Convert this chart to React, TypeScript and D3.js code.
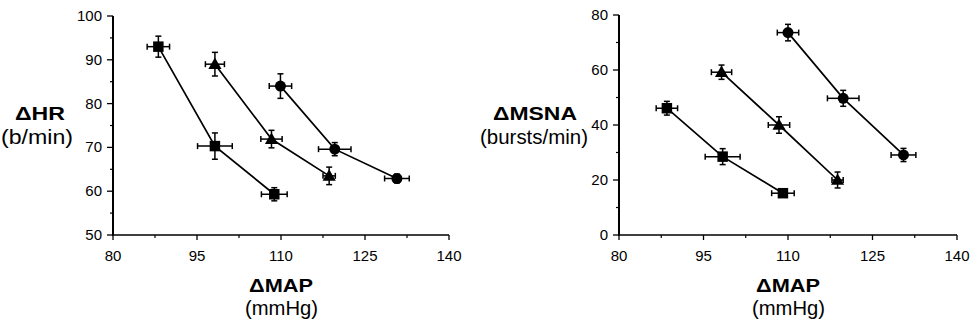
import * as d3 from 'd3';

// x axis (both panels): change in mean arterial pressure
const MAP_TICKS = [80, 95, 110, 125, 140];
const MAP_MINOR = [87.5, 102.5, 117.5, 132.5];
const HR_TICKS = [50, 60, 70, 80, 90, 100];
const HR_MINOR = [55, 65, 75, 85, 95];
const MSNA_TICKS = [0, 20, 40, 60, 80];
const MSNA_MINOR = [10, 30, 50, 70];

// left panel: HR vs MAP
const HR_SQ_MAP = [88.1, 98.2, 108.8];
const HR_SQ_MAP_SE = [2.0, 3.1, 2.3];
const HR_SQ = [93.0, 70.3, 59.3];
const HR_SQ_SE = [2.4, 3.0, 1.5];

const HR_TRI_MAP = [98.2, 108.3, 118.6];
const HR_TRI_MAP_SE = [1.7, 1.9, 1.1];
const HR_TRI = [89.0, 71.9, 63.5];
const HR_TRI_SE = [2.7, 2.0, 2.0];

const HR_CIR_MAP = [109.9, 119.6, 130.7];
const HR_CIR_MAP_SE = [2.0, 2.9, 2.2];
const HR_CIR = [84.0, 69.6, 62.9];
const HR_CIR_SE = [2.8, 1.5, 1.0];

// right panel: MSNA vs MAP
const MS_SQ_MAP = [88.5, 98.4, 109.1];
const MS_SQ_MAP_SE = [1.9, 3.1, 2.0];
const MS_SQ = [46.1, 28.5, 15.2];
const MS_SQ_SE = [2.5, 2.9, 1.2];

const MS_TRI_MAP = [98.2, 108.4, 118.8];
const MS_TRI_MAP_SE = [1.8, 1.9, 1.0];
const MS_TRI = [59.2, 40.0, 20.0];
const MS_TRI_SE = [2.6, 3.0, 2.9];

const MS_CIR_MAP = [110.0, 119.8, 130.5];
const MS_CIR_MAP_SE = [1.9, 2.8, 2.2];
const MS_CIR = [73.6, 49.7, 29.1];
const MS_CIR_SE = [3.0, 2.9, 2.4];

const FONT = '"Liberation Sans", Arial, Helvetica, sans-serif';

type Series = { shape: d3.SymbolType; size: number; x: number[]; xe: number[]; y: number[]; ye: number[] };

const hrSeries: Series[] = [
  { shape: d3.symbolSquare, size: 110, x: HR_SQ_MAP, xe: HR_SQ_MAP_SE, y: HR_SQ, ye: HR_SQ_SE },
  { shape: d3.symbolTriangle, size: 75, x: HR_TRI_MAP, xe: HR_TRI_MAP_SE, y: HR_TRI, ye: HR_TRI_SE },
  { shape: d3.symbolCircle, size: 95, x: HR_CIR_MAP, xe: HR_CIR_MAP_SE, y: HR_CIR, ye: HR_CIR_SE },
];

const msnaSeries: Series[] = [
  { shape: d3.symbolSquare, size: 110, x: MS_SQ_MAP, xe: MS_SQ_MAP_SE, y: MS_SQ, ye: MS_SQ_SE },
  { shape: d3.symbolTriangle, size: 75, x: MS_TRI_MAP, xe: MS_TRI_MAP_SE, y: MS_TRI, ye: MS_TRI_SE },
  { shape: d3.symbolCircle, size: 95, x: MS_CIR_MAP, xe: MS_CIR_MAP_SE, y: MS_CIR, ye: MS_CIR_SE },
];

interface PanelProps {
  left: number;
  right: number;
  top: number;
  bottom: number;
  yDomain: [number, number];
  yTicks: number[];
  yMinor: number[];
  series: Series[];
  yLabel: string;
  yLabelX: number;
  yLabelW: number;
  yUnit: string;
  yUnitX: number;
  yUnitW: number;
}

const Panel = (p: PanelProps) => {
  const x = d3.scaleLinear().domain([80, 140]).range([p.left, p.right]);
  const y = d3.scaleLinear().domain(p.yDomain).range([p.bottom, p.top]);
  const line = d3.line<number>();
  const cap = 3;
  const midX = (p.left + p.right) / 2;

  return (
    <g>
      {/* axes */}
      <line x1={p.left} x2={p.left} y1={y(p.yDomain[1])} y2={p.bottom + 0.5} stroke="#000" strokeWidth={2} />
      <line x1={p.left - 1} x2={x(140)} y1={p.bottom} y2={p.bottom} stroke="#000" strokeWidth={1.6} />
      {p.yTicks.map(t => (
        <g key={'yt' + t}>
          <line x1={p.left - 6} x2={p.left} y1={y(t)} y2={y(t)} stroke="#000" strokeWidth={1.3} />
          <text x={p.left - 11} y={y(t) + 5} textAnchor="end" fontSize={15} fontFamily={FONT}>{t}</text>
        </g>
      ))}
      {p.yMinor.map(t => (
        <line key={'ym' + t} x1={p.left - 3} x2={p.left} y1={y(t)} y2={y(t)} stroke="#000" strokeWidth={1.2} />
      ))}
      {MAP_TICKS.map(t => (
        <g key={'xt' + t}>
          <line x1={x(t)} x2={x(t)} y1={p.bottom} y2={p.bottom + 5} stroke="#000" strokeWidth={1.3} />
          <text x={x(t)} y={p.bottom + 26} textAnchor="middle" fontSize={15} fontFamily={FONT}>{t}</text>
        </g>
      ))}
      {MAP_MINOR.map(t => (
        <line key={'xm' + t} x1={x(t)} x2={x(t)} y1={p.bottom} y2={p.bottom + 3} stroke="#000" strokeWidth={1.2} />
      ))}

      {/* labels */}
      <text x={p.yLabelX} y={120} fontSize={18.5} fontWeight="bold" fontFamily={FONT}
        textLength={p.yLabelW} lengthAdjust="spacingAndGlyphs">{p.yLabel}</text>
      <text x={p.yUnitX} y={144} fontSize={20} fontFamily={FONT}
        textLength={p.yUnitW} lengthAdjust="spacingAndGlyphs">{p.yUnit}</text>
      <text x={midX - 32} y={292} fontSize={18.5} fontWeight="bold" fontFamily={FONT}
        textLength={64} lengthAdjust="spacingAndGlyphs">ΔMAP</text>
      <text x={midX - 36} y={315} fontSize={20} fontFamily={FONT}
        textLength={73} lengthAdjust="spacingAndGlyphs">(mmHg)</text>

      {/* data */}
      {p.series.map((s, si) => {
        const pts = s.x.map((v, i) => [x(v), y(s.y[i])] as [number, number]);
        return (
          <g key={'s' + si}>
            <path d={line(pts) || ''} fill="none" stroke="#000" strokeWidth={1.7} />
            {s.x.map((v, i) => {
              const cx = x(v);
              const cy = y(s.y[i]);
              const xl = x(v - s.xe[i]);
              const xr = x(v + s.xe[i]);
              const yt = y(s.y[i] + s.ye[i]);
              const yb = y(s.y[i] - s.ye[i]);
              return (
                <g key={'p' + i} stroke="#000" strokeWidth={1.5}>
                  <line x1={xl} x2={xr} y1={cy} y2={cy} />
                  <line x1={xl} x2={xl} y1={cy - cap} y2={cy + cap} />
                  <line x1={xr} x2={xr} y1={cy - cap} y2={cy + cap} />
                  <line x1={cx} x2={cx} y1={yt} y2={yb} />
                  <line x1={cx - cap} x2={cx + cap} y1={yt} y2={yt} />
                  <line x1={cx - cap} x2={cx + cap} y1={yb} y2={yb} />
                  <path
                    d={d3.symbol().type(s.shape).size(s.size)() || ''}
                    transform={`translate(${cx},${cy + (s.shape === d3.symbolTriangle ? 1 : 0)})`}
                    fill="#000"
                    stroke="none"
                  />
                </g>
              );
            })}
          </g>
        );
      })}
    </g>
  );
};

export default function App() {
  return (
    <svg
      width={975}
      height={326}
      style={{ position: 'absolute', left: 0, top: 0, background: '#fff' }}
    >
      <rect width={975} height={326} fill="#fff" />
      <Panel
        left={113} right={449} top={16} bottom={235}
        yDomain={[50, 100]} yTicks={HR_TICKS} yMinor={HR_MINOR}
        series={hrSeries}
        yLabel="ΔHR" yLabelX={15} yLabelW={50}
        yUnit="(b/min)" yUnitX={1} yUnitW={72}
      />
      <Panel
        left={619} right={957} top={15} bottom={235}
        yDomain={[0, 80]} yTicks={MSNA_TICKS} yMinor={MSNA_MINOR}
        series={msnaSeries}
        yLabel="ΔMSNA" yLabelX={493} yLabelW={84}
        yUnit="(bursts/min)" yUnitX={480} yUnitW={108}
      />
    </svg>
  );
}
